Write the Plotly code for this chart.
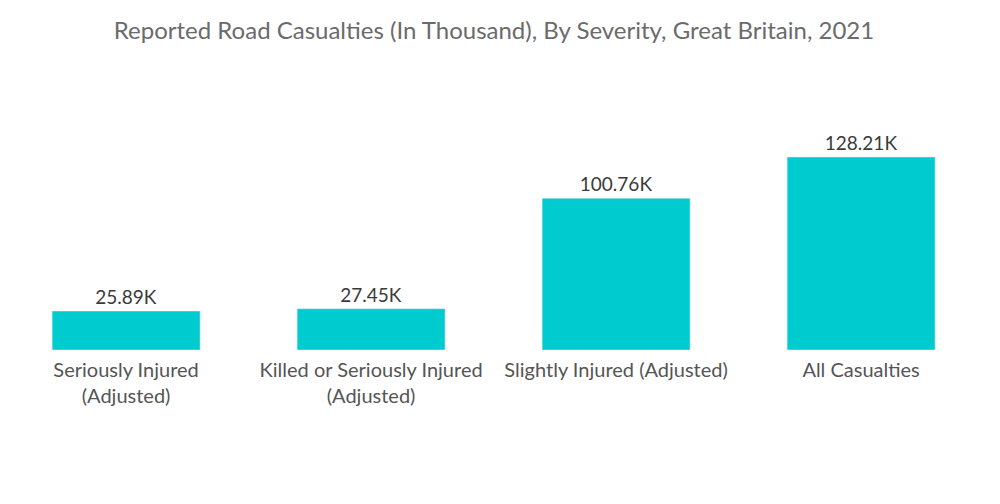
import plotly.graph_objects as go

# reported road casualties, thousands, GB 2021
categories = ["Seriously Injured<br>(Adjusted)", "Killed or Seriously Injured<br>(Adjusted)",
              "Slightly Injured (Adjusted)", "All Casualties"]
values = [25.89, 27.45, 100.76, 128.21]
labels = ["25.89K", "27.45K", "100.76K", "128.21K"]

fig = go.Figure(go.Bar(
    x=categories, y=values,
    text=labels, textposition="outside",
    textfont=dict(size=19, color="#3a3a3a", family="Lato"),
    marker_color="#00CCCF",
    cliponaxis=False,
))

fig.update_layout(
    width=1000, height=504,
    paper_bgcolor="white", plot_bgcolor="white",
    title=dict(text="Reported Road Casualties (In Thousand), By Severity, Great Britain, 2021",
               x=0.486, xanchor="center", y=0.956, yanchor="middle",
               font=dict(size=24, color="#6b6b6b", family="Lato")),
    margin=dict(l=0, r=20, t=100, b=162),
    bargap=0.396,
    showlegend=False,
    font=dict(family="Lato"),
)
fig.update_xaxes(showgrid=False, showline=False, ticks="", range=[-0.482, 3.518],
                 ticklabelstandoff=6,
                 tickfont=dict(size=20, color="#555555"))
fig.update_yaxes(visible=False, range=[0, 128.21 * 242 / 193])

fig.write_html("out.html")
